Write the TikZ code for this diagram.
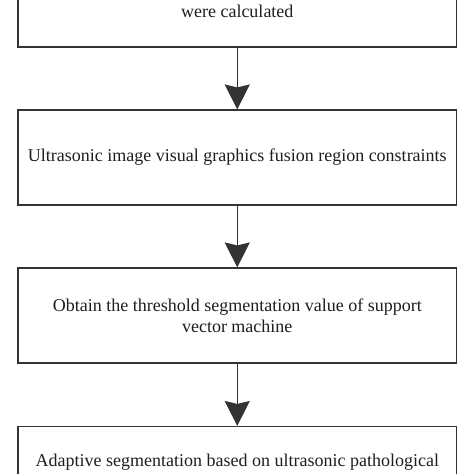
\documentclass[tikz,border=0pt]{standalone}
\usepackage{fontspec}
\setmainfont{Liberation Serif}
\usetikzlibrary{arrows.meta}
\definecolor{linegray}{HTML}{333333}
\definecolor{textgray}{HTML}{1E1E1E}
\begin{document}
\begin{tikzpicture}[x=1pt,y=-1pt,
  stepbox/.style={draw=linegray, line width=1.1pt, minimum width=438.5pt, minimum height=95pt,
    inner sep=0pt, align=center, text=textgray,
    font=\fontsize{18}{20.7}\selectfont},
  flow/.style={draw=linegray, line width=1.1pt,
    -{Stealth[length=25pt, width=25pt, inset=3pt]}}]
\useasboundingbox (0,0) rectangle (474,474);
\clip (0,0) rectangle (474,474);
\node[stepbox] (b1) at (237.25,-0.5) {\strut\\were calculated};
\node[stepbox] (b2) at (237.25,157.5) {Ultrasonic image visual graphics fusion region constraints};
\node[stepbox] (b3) at (237.25,315.5) {Obtain the threshold segmentation value of support\\vector machine};
\node[stepbox] (b4) at (237.25,474) {Adaptive segmentation based on ultrasonic pathological\\\strut};
\draw[flow] (b1.south) -- (b2.north);
\draw[flow] (b2.south) -- (b3.north);
\draw[flow] (b3.south) -- (b4.north);
\end{tikzpicture}
\end{document}
